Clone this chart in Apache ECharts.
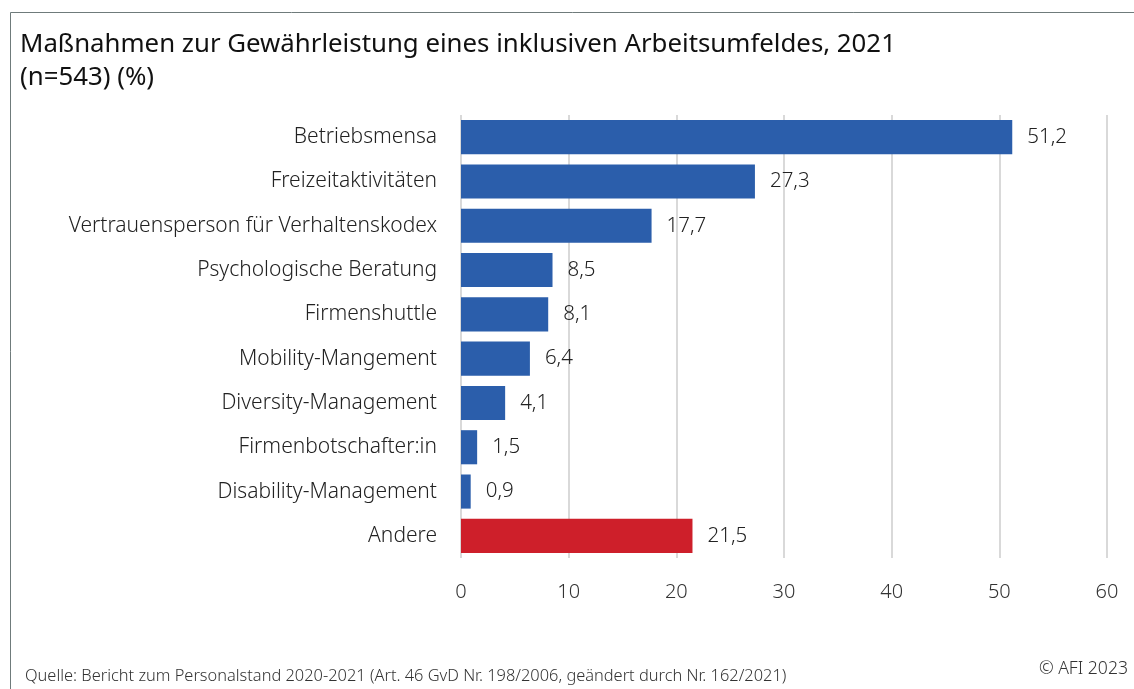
<!DOCTYPE html>
<html><head><meta charset="utf-8">
<script src="https://cdn.jsdelivr.net/npm/echarts@6/dist/echarts.min.js"></script>
<style>html,body{margin:0;padding:0;background:#fff}#c{width:1134px;height:689px}</style>
</head><body><div id="c"></div>
<script>
const categories = ["Betriebsmensa","Freizeitaktivitäten","Vertrauensperson für Verhaltenskodex","Psychologische Beratung","Firmenshuttle","Mobility-Mangement","Diversity-Management","Firmenbotschafter:in","Disability-Management","Andere"];
const values = [51.2,27.3,17.7,8.5,8.1,6.4,4.1,1.5,0.9,21.5];
const xTicks = [0,10,20,30,40,50,60];
const titleText = "Maßnahmen zur Gewährleistung eines inklusiven Arbeitsumfeldes, 2021\n(n=543) (%)";
const sourceText = "Quelle: Bericht zum Personalstand 2020-2021 (Art. 46 GvD Nr. 198/2006, geändert durch Nr. 162/2021)";
const copyText = "© AFI 2023";
const blue = "#2B5EAB", red = "#CE1F2A";
const FONT = "Noto Sans";
const chart = echarts.init(document.getElementById('c'));
chart.setOption({
  animation:false,
  textStyle:{fontFamily:FONT},
  title:{text:titleText,left:15,top:23,textStyle:{fontFamily:FONT,fontSize:25.8,fontWeight:'normal',color:'#111',lineHeight:33}},
  graphic:[
    {type:'polyline',shape:{points:[[10.5,700],[10.5,12.5],[1140,12.5]]},style:{stroke:'#6f7b7b',lineWidth:1,fill:null}},
    {type:'text',left:25,top:668,style:{text:sourceText,font:'300 16.4px "'+FONT+'"',fill:'#333'}},
    {type:'text',right:6,top:660,style:{text:copyText,font:'300 17.6px "'+FONT+'"',fill:'#333'}}
  ],
  grid:{left:461,right:27,top:115,bottom:131,containLabel:false},
  xAxis:{type:'value',min:0,max:60,interval:10,
    axisLine:{show:false},axisTick:{show:false},
    axisLabel:{fontSize:20,fontWeight:300,color:'#333',margin:24,formatter:v=>xTicks.includes(v)?String(v):''},
    splitLine:{lineStyle:{color:'#d9d9d9',width:2}}},
  yAxis:{type:'category',inverse:true,data:categories,
    axisLine:{show:false},axisTick:{show:false},
    axisLabel:{fontSize:21,fontWeight:300,color:'#222',margin:24}},
  series:[{type:'bar',barCategoryGap:'23%',
    data:values.map((v,i)=>({value:v,itemStyle:{color:categories[i]==='Andere'?red:blue}})),
    label:{show:true,position:'right',distance:15,fontSize:20.5,fontWeight:300,color:'#222',formatter:p=>String(p.value).replace('.',',')}}]
});
</script></body></html>
